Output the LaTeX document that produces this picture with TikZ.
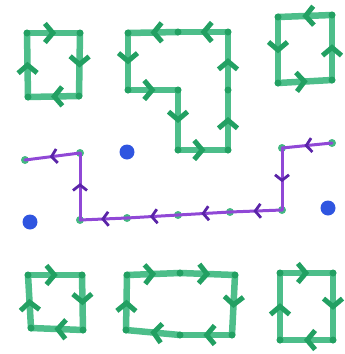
\documentclass[tikz,border=0pt]{standalone}
\usetikzlibrary{arrows.meta,decorations.markings}
\definecolor{gline}{HTML}{4DBE8A}
\definecolor{gdark}{HTML}{22A062}
\definecolor{pline}{HTML}{9048D6}
\definecolor{pdark}{HTML}{5A24A8}
\definecolor{bdot}{HTML}{2F55E0}
\tikzset{
  gedge/.style={draw=gline, line width=6.5pt, line cap=round, line join=round,
    postaction={decorate, decoration={markings, mark=at position 0.55 with
      {\arrow[gdark]{Straight Barb[length=8pt, width=19pt, line width=5pt]}}}}},
  gvert/.style={fill=gdark, circle, inner sep=0pt, minimum size=7pt},
  pedge/.style={draw=pline, line width=3pt, line cap=round, line join=round,
    postaction={decorate, decoration={markings, mark=at position 0.55 with
      {\arrow[pdark]{Straight Barb[length=5.5pt, width=14pt, line width=2.8pt]}}}}},
  pvert/.style={fill=gline!80!gdark, circle, inner sep=0pt, minimum size=8pt},
  charge/.style={fill=bdot, circle, inner sep=0pt, minimum size=15pt}
}
\begin{document}
\begin{tikzpicture}[x=1pt,y=-1pt]
\useasboundingbox (0,0) rectangle (345,354);
% loop A
\coordinate (a1) at (27,33); \coordinate (a2) at (80,33);
\coordinate (a3) at (79,96); \coordinate (a4) at (28,97);
% loop B
\coordinate (b1) at (128,33); \coordinate (b2) at (178,32); \coordinate (b3) at (228,32);
\coordinate (b4) at (228,90); \coordinate (b5) at (228,150); \coordinate (b6) at (178,150);
\coordinate (b7) at (178,90); \coordinate (b8) at (128,90);
% loop C
\coordinate (c1) at (278,17); \coordinate (c2) at (332,15);
\coordinate (c3) at (332,80); \coordinate (c4) at (278,83);
% loop D
\coordinate (d1) at (28,275); \coordinate (d2) at (82,275);
\coordinate (d3) at (83,330); \coordinate (d4) at (31,328);
% loop E
\coordinate (e1) at (127,275); \coordinate (e2) at (180,273); \coordinate (e3) at (235,275);
\coordinate (e4) at (232,335); \coordinate (e5) at (180,335); \coordinate (e6) at (126,330);
% loop F
\coordinate (f1) at (280,273); \coordinate (f2) at (333,273);
\coordinate (f3) at (333,340); \coordinate (f4) at (280,340);
% purple string
\coordinate (p1) at (332,143); \coordinate (p2) at (282,148); \coordinate (p3) at (282,210);
\coordinate (p4) at (230,212); \coordinate (p5) at (178,215); \coordinate (p6) at (127,218);
\coordinate (p7) at (80,220); \coordinate (p8) at (80,153); \coordinate (p9) at (25,160);

\foreach \s/\t in {a1/a2,a2/a3,a3/a4,a4/a1,
  b3/b2,b2/b1,b1/b8,b8/b7,b7/b6,b6/b5,b5/b4,b4/b3,
  c2/c1,c1/c4,c4/c3,c3/c2,
  d1/d2,d2/d3,d3/d4,d4/d1,
  e1/e2,e2/e3,e3/e4,e4/e5,e5/e6,e6/e1,
  f1/f2,f2/f3,f3/f4,f4/f1}
  \draw[gedge] (\s) -- (\t);
\foreach \v in {a1,a2,a3,a4,b1,b2,b3,b4,b5,b6,b7,b8,c1,c2,c3,c4,d1,d2,d3,d4,e1,e2,e3,e4,e5,e6,f1,f2,f3,f4}
  \node[gvert] at (\v) {};

\foreach \v in {p1,p2,p3,p4,p5,p6,p7,p8,p9}
  \node[pvert] at (\v) {};
\foreach \s/\t in {p1/p2,p2/p3,p3/p4,p4/p5,p5/p6,p6/p7,p7/p8,p8/p9}
  \draw[pedge] (\s) -- (\t);

\node[charge] (q1) at (127,152) {};
\node[charge] (q2) at (30,222) {};
\node[charge] (q3) at (328,208) {};
\end{tikzpicture}
\end{document}
